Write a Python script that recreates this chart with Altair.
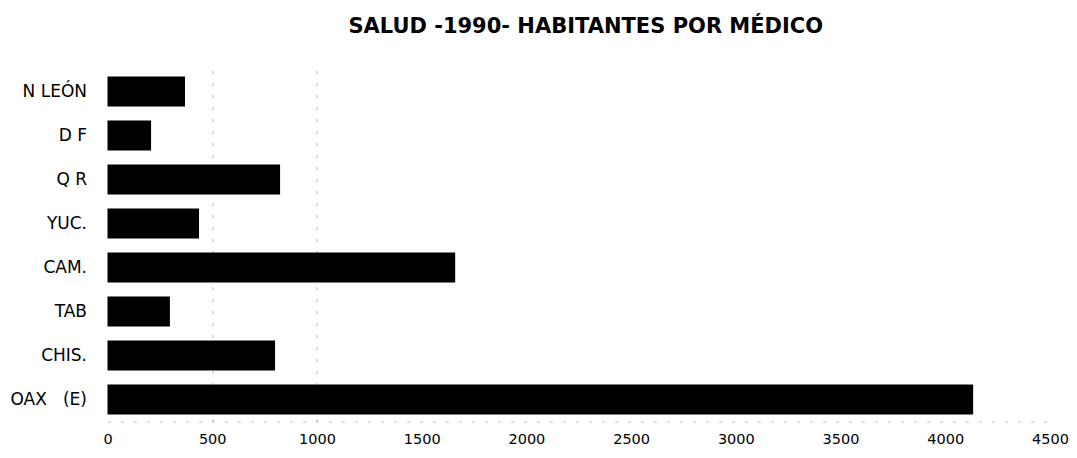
import altair as alt
import pandas as pd

NB = "\u00a0"
estados = ["N LEÓN", "D F", "Q R", "YUC.", "CAM.", "TAB", "CHIS.", "OAX" + NB * 3 + "(E)"]
habitantes = [370, 208, 824, 437, 1660, 298, 800, 4133]
ticks = [0, 500, 1000, 1500, 2000, 2500, 3000, 3500, 4000, 4500]

df = pd.DataFrame({"estado": estados, "hab": habitantes})

grid_op = {"condition": {"test": "datum.value == 500 || datum.value == 1000", "value": 0.55},
           "value": 0}

chart = alt.Chart(df).mark_bar(color="black").encode(
    x=alt.X("hab:Q",
            scale=alt.Scale(domain=[0, 4500], nice=False),
            axis=alt.Axis(values=ticks, title=None, ticks=False, format="d",
                          domain=True, domainColor="#999999", domainDash=[3, 10], domainOpacity=0.6,
                          grid=True, gridColor="#777777", gridDash=[3, 9], gridOpacity=grid_op,
                          labelFont="DejaVu Sans", labelFontSize=14.5, labelColor="black",
                          labelPadding=11, labelBaseline="top", labelFlush=False)),
    y=alt.Y("estado:N", sort=estados,
            scale=alt.Scale(paddingInner=0.32, paddingOuter=0.16),
            axis=alt.Axis(title=None, ticks=False, domain=False,
                          labelFont="DejaVu Sans", labelFontSize=17, labelColor="black",
                          labelPadding=21, labelAlign="right")),
).properties(
    width=942.5,
    height=352,
    autosize=alt.AutoSizeParams(type="none"),
    padding={"left": 99.5, "top": 61.5, "right": 19, "bottom": 28},
    title=alt.TitleParams("SALUD -1990- HABITANTES POR MÉDICO",
                          font="DejaVu Sans", fontSize=21, fontWeight="bold",
                          color="black", offset=33, dx=7, anchor="middle"),
).configure_view(stroke=None)

chart.save("out.html", embed_options={"renderer": "svg", "actions": False})
